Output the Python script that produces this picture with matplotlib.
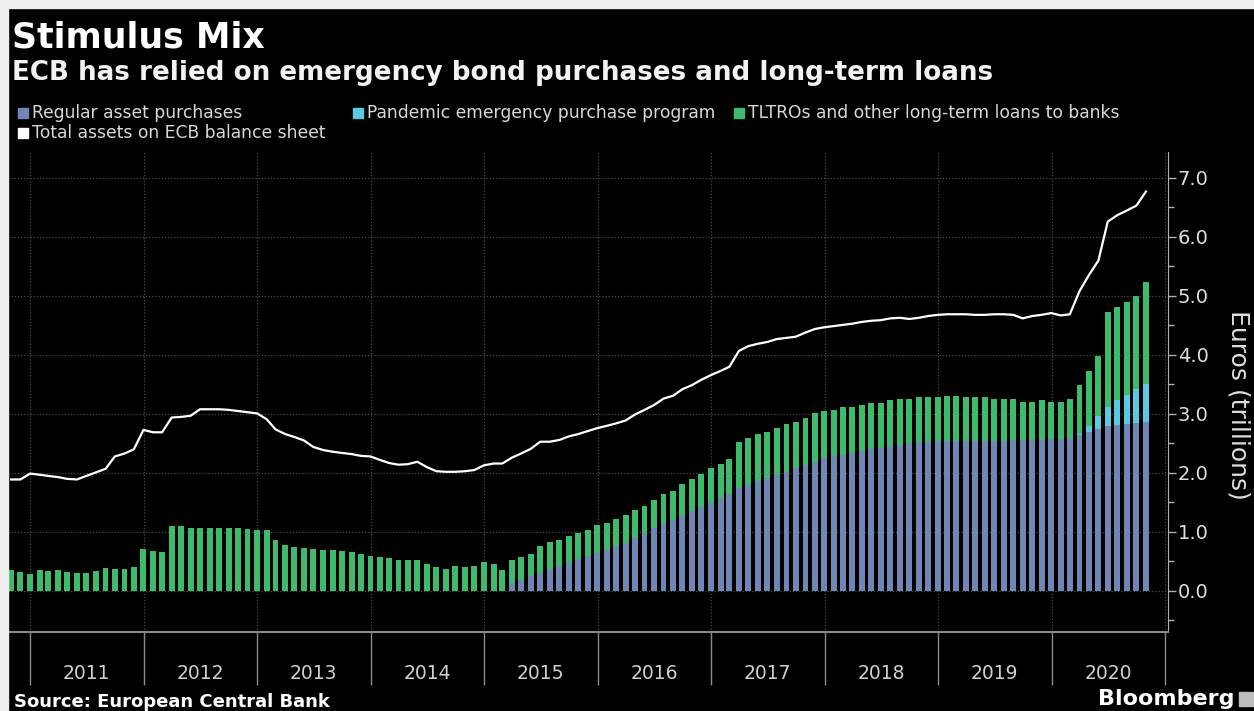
import pandas as pd
import matplotlib.pyplot as plt
import matplotlib.dates as mdates
from matplotlib.patches import Rectangle
from matplotlib.ticker import MultipleLocator, FormatStrFormatter, NullFormatter

plt.rcParams['font.family'] = ['DejaVu Sans']

# ---- data (EUR trillions, month-end, Oct 2010 .. Oct 2020) ----
months = pd.date_range('2010-10-31', periods=121, freq='ME')

regular = ([0.0, 0.0, 0.0]                                   # 2010 Oct-Dec
           + [0.0] * 12                                       # 2011
           + [0.0] * 12                                       # 2012
           + [0.0] * 12                                       # 2013
           + [0.0] * 12                                       # 2014
           + [0.0, 0.0, 0.13, 0.19, 0.25, 0.31, 0.37, 0.42, 0.48, 0.54, 0.60, 0.64]
           + [0.70, 0.76, 0.82, 0.90, 0.98, 1.06, 1.13, 1.20, 1.27, 1.35, 1.43, 1.49]
           + [1.57, 1.65, 1.74, 1.80, 1.86, 1.91, 1.97, 2.02, 2.08, 2.14, 2.19, 2.25]
           + [2.28, 2.31, 2.34, 2.37, 2.40, 2.43, 2.45, 2.48, 2.50, 2.52, 2.53, 2.54]
           + [2.54, 2.54, 2.55, 2.55, 2.55, 2.55, 2.55, 2.56, 2.56, 2.56, 2.56, 2.57]
           + [2.58, 2.60, 2.64, 2.69, 2.75, 2.79, 2.81, 2.83, 2.85, 2.87])

pepp = ([0.0] * 111
        + [0.0, 0.0, 0.02, 0.10, 0.21, 0.33, 0.42, 0.50, 0.58, 0.64])   # 2020

tltro = ([0.35, 0.33, 0.29]
         + [0.35, 0.34, 0.35, 0.33, 0.31, 0.30, 0.34, 0.39, 0.38, 0.38, 0.40, 0.71]
         + [0.67, 0.66, 1.10, 1.10, 1.07, 1.07, 1.07, 1.07, 1.06, 1.06, 1.05, 1.04]
         + [1.04, 0.86, 0.78, 0.75, 0.73, 0.71, 0.70, 0.69, 0.67, 0.66, 0.63, 0.59]
         + [0.58, 0.56, 0.53, 0.52, 0.52, 0.46, 0.40, 0.38, 0.42, 0.40, 0.42, 0.49]
         + [0.46, 0.36, 0.39, 0.38, 0.38, 0.45, 0.46, 0.44, 0.45, 0.44, 0.44, 0.47]
         + [0.46, 0.46, 0.46, 0.48, 0.46, 0.48, 0.51, 0.50, 0.55, 0.54, 0.55, 0.60]
         + [0.59, 0.59, 0.79, 0.80, 0.80, 0.79, 0.80, 0.81, 0.79, 0.80, 0.82, 0.80]
         + [0.79, 0.80, 0.78, 0.78, 0.79, 0.76, 0.78, 0.77, 0.75, 0.76, 0.75, 0.75]
         + [0.77, 0.77, 0.74, 0.73, 0.73, 0.70, 0.70, 0.69, 0.65, 0.65, 0.67, 0.63]
         + [0.62, 0.65, 0.83, 0.93, 1.02, 1.60, 1.59, 1.57, 1.57, 1.73])

total_assets = ([1.89, 1.89, 1.99]
                + [1.97, 1.95, 1.93, 1.90, 1.89, 1.95, 2.01, 2.07, 2.28, 2.33, 2.40, 2.73]
                + [2.69, 2.69, 2.94, 2.95, 2.97, 3.08, 3.08, 3.08, 3.07, 3.05, 3.03, 3.01]
                + [2.91, 2.74, 2.66, 2.61, 2.55, 2.44, 2.39, 2.36, 2.34, 2.32, 2.29, 2.28]
                + [2.22, 2.17, 2.14, 2.15, 2.19, 2.10, 2.03, 2.02, 2.02, 2.03, 2.05, 2.13]
                + [2.16, 2.16, 2.26, 2.33, 2.41, 2.53, 2.53, 2.56, 2.62, 2.66, 2.71, 2.76]
                + [2.80, 2.84, 2.89, 2.99, 3.07, 3.15, 3.26, 3.31, 3.42, 3.49, 3.58, 3.66]
                + [3.73, 3.80, 4.07, 4.15, 4.19, 4.22, 4.27, 4.29, 4.31, 4.38, 4.44, 4.47]
                + [4.49, 4.51, 4.53, 4.56, 4.58, 4.59, 4.62, 4.63, 4.61, 4.63, 4.66, 4.68]
                + [4.69, 4.69, 4.69, 4.68, 4.68, 4.69, 4.69, 4.68, 4.62, 4.66, 4.68, 4.71]
                + [4.67, 4.69, 5.08, 5.35, 5.60, 6.26, 6.37, 6.45, 6.53, 6.77])

labels = ['Regular asset purchases', 'Pandemic emergency purchase program',
          'TLTROs and other long-term loans to banks', 'Total assets on ECB balance sheet']

BLUE, CYAN, GREEN = '#7087b6', '#5cc9e2', '#3dba6b'
W, H = 1254, 711

fig = plt.figure(figsize=(W / 100, H / 100), dpi=100, facecolor='black')
# light frame on top and left of the screenshot
fig.patches.append(Rectangle((0, 1 - 8 / H), 1, 8 / H, transform=fig.transFigure, color='#efefef'))
fig.patches.append(Rectangle((0, 0), 8 / W, 1, transform=fig.transFigure, color='#efefef'))

ax = fig.add_axes([8 / W, 1 - 632 / H, 1160 / W, 480 / H], facecolor='black')
ax.set_axisbelow(True)

bw = 19  # days
stack2 = [r + p for r, p in zip(regular, pepp)]
ax.bar(months, regular, width=bw, color=BLUE, lw=0)
ax.bar(months, pepp, width=bw, bottom=regular, color=CYAN, lw=0)
ax.bar(months, tltro, width=bw, bottom=stack2, color=GREEN, lw=0)
ax.plot(months, total_assets, color='white', lw=1.6, solid_joinstyle='round')

ax.set_xlim(pd.Timestamp('2010-10-21'), pd.Timestamp('2021-01-10'))
ax.set_ylim(-0.695, 7.44)

# y axis on the right
ax.yaxis.tick_right()
ax.yaxis.set_major_locator(MultipleLocator(1))
ax.yaxis.set_minor_locator(MultipleLocator(0.5))
ax.yaxis.set_major_formatter(FormatStrFormatter('%.1f'))
ax.tick_params(axis='y', which='major', direction='out', length=6, width=1,
               color='#b0b0b0', labelsize=14, labelcolor='#dedede', pad=1)
ax.tick_params(axis='y', which='minor', direction='out', length=4, width=1, color='#b0b0b0')

# x axis: year separators as long ticks, year names centred mid-year
ax.xaxis.set_major_locator(mdates.YearLocator())
ax.xaxis.set_major_formatter(NullFormatter())
ax.xaxis.set_minor_locator(mdates.MonthLocator(bymonth=7, bymonthday=1))
ax.xaxis.set_minor_formatter(mdates.DateFormatter('%Y'))
ax.tick_params(axis='x', which='major', direction='out', length=38, width=1, color='#8a8a8a')
ax.tick_params(axis='x', which='minor', length=0, pad=23, labelsize=13.5, labelcolor='#d0d0d0')

ax.grid(axis='y', which='major', color='#4a4a4a', ls=(0, (1, 1.5)), lw=0.9)
ax.grid(axis='x', which='major', color='#4a4a4a', ls=(0, (1, 1.5)), lw=0.9)

for s in ['top', 'left']:
    ax.spines[s].set_visible(False)
ax.spines['right'].set_color('#b0b0b0')
ax.spines['bottom'].set_color('#8a8a8a')
ax.spines['bottom'].set_linewidth(1.5)

# titles
fig.text(12 / W, 1 - 47 / H, 'Stimulus Mix', fontsize=25, fontweight='bold',
         color='white', va='baseline')
fig.text(12 / W, 1 - 80 / H, 'ECB has relied on emergency bond purchases and long-term loans',
         fontsize=18.8, fontweight='bold', color='#f2f2f2', va='baseline')

# legend
leg = [(18, 113, BLUE, labels[0]), (353, 113, CYAN, labels[1]),
       (734, 113, GREEN, labels[2]), (18, 133, 'white', labels[3])]
for x0, yc, col, txt in leg:
    fig.patches.append(Rectangle((x0 / W, 1 - (yc + 5) / H), 10 / W, 10 / H,
                                 transform=fig.transFigure, color=col))
    fig.text((x0 + 14) / W, 1 - yc / H, txt, fontsize=12.3, color='#d8d8d8', va='center')

fig.text(1239 / W, 1 - 405 / H, 'Euros (trillions)', rotation=270, ha='center', va='center',
         fontsize=18, color='#dedede')

fig.text(14 / W, 1 - 707 / H, 'Source: European Central Bank', fontsize=13, fontweight='bold',
         color='white', va='baseline')
fig.text(1234 / W, 1 - 705 / H, 'Bloomberg', fontsize=16, fontweight='bold',
         color='white', va='baseline', ha='right')
fig.patches.append(Rectangle((1239 / W, 1 - 706 / H), 14 / W, 14 / H,
                             transform=fig.transFigure, color='#bdbdbd'))

fig.savefig('out.png', dpi=100, facecolor=fig.get_facecolor())
